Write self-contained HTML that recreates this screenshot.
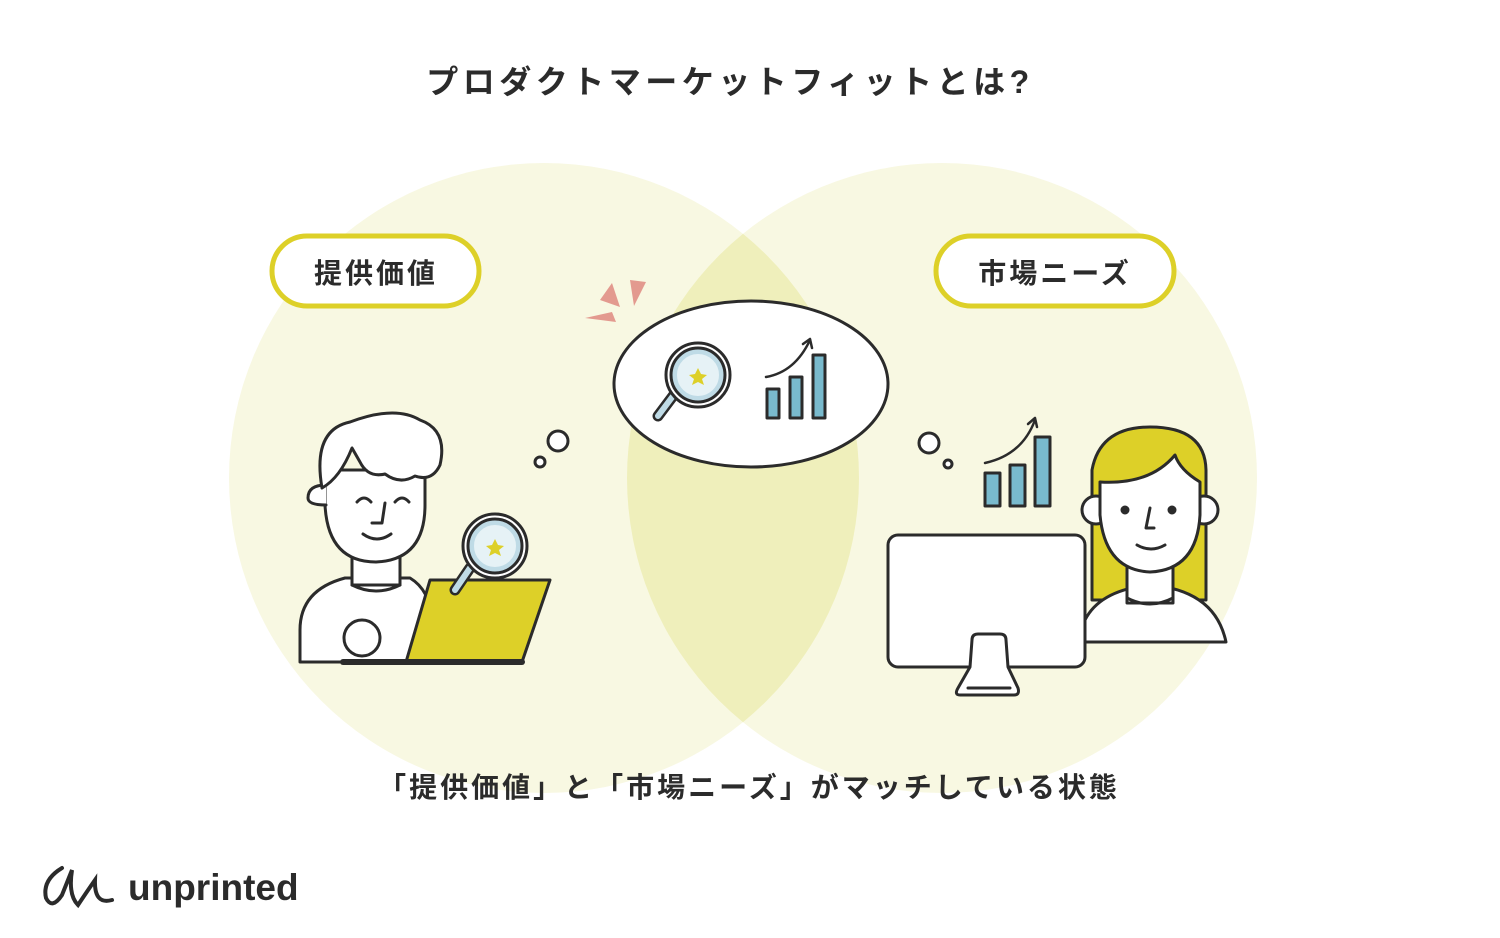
<!DOCTYPE html>
<html><head><meta charset="utf-8"><style>
body{margin:0;width:1500px;height:938px;background:#fff;overflow:hidden}
svg{display:block}
text{font-family:"Liberation Sans","Noto Sans CJK JP",sans-serif;font-weight:bold;fill:#2b2b2b}
</style></head><body>
<svg width="1500" height="938" viewBox="0 0 1500 938">
<defs><clipPath id="cl"><circle cx="544" cy="478" r="315"/></clipPath></defs>
<circle cx="544" cy="478" r="315" fill="#f8f8e2"/>
<circle cx="942" cy="478" r="315" fill="#f8f8e2"/>
<circle cx="942" cy="478" r="315" fill="#efefbb" clip-path="url(#cl)"/>
<text x="730" y="93" font-size="32" text-anchor="middle" letter-spacing="4.5">プロダクトマーケットフィットとは?</text>
<rect x="272" y="236" width="207" height="70" rx="35" fill="#fff" stroke="#ddd028" stroke-width="5"/>
<text x="376" y="283" font-size="28" text-anchor="middle" letter-spacing="3">提供価値</text>
<rect x="936" y="236" width="238" height="70" rx="35" fill="#fff" stroke="#ddd028" stroke-width="5"/>
<text x="1055" y="283" font-size="28" text-anchor="middle" letter-spacing="3">市場ニーズ</text>
<text x="749" y="797" font-size="28" text-anchor="middle" letter-spacing="3">「提供価値」と「市場ニーズ」がマッチしている状態</text>
<g stroke="#2b2b2b" stroke-width="3" fill="none" stroke-linecap="round" stroke-linejoin="round">
<ellipse cx="751" cy="384" rx="137" ry="83" fill="#fff"/>
<line x1="676" y1="392" x2="658" y2="416" stroke-width="11"/>
<line x1="676" y1="392" x2="658" y2="416" stroke="#bfdbe6" stroke-width="6"/>
<circle cx="698" cy="375" r="32" fill="#fff"/>
<circle cx="698" cy="375" r="24" fill="#e6f2f6" stroke="#bfdbe6" stroke-width="6"/>
<circle cx="698" cy="375" r="27"/>
<rect x="767" y="389" width="12" height="29" fill="#79bacd"/>
<rect x="790" y="377" width="12" height="41" fill="#79bacd"/>
<rect x="813" y="355" width="12" height="63" fill="#79bacd"/>
<path d="M766 377 Q795 372 810 340" stroke-width="2.5"/><path d="M803 344 L810 339 L812 348" stroke-width="2.5"/>
<circle cx="558" cy="441" r="10" fill="#fff"/><circle cx="540" cy="462" r="5" fill="#fff"/>
<path d="M300 662 L300 630 Q300 590 345 578 L410 578 Q430 590 432 620 L420 662 Z" fill="#fff"/>
<rect x="352" y="540" width="48" height="45" fill="#fff"/>
<path d="M352 585 Q376 597 400 585"/>
<circle cx="362" cy="638" r="18" fill="#fff"/>
<path d="M325 470 L325 505 Q328 562 376 562 Q425 560 425 505 L425 470 Z" fill="#fff"/>
<path d="M326 505 Q308 505 308 498 Q308 485 326 485" fill="#fff"/>
<path d="M322 488 Q312 430 350 422 Q395 405 420 420 Q448 430 440 465 Q432 482 415 476 Q400 485 385 474 Q368 478 360 462 L352 448 Q340 478 322 488" fill="#fff"/>
<path d="M357 502 q7 -8 14 0 M395 502 q7 -8 14 0 M385 503 l-3 20 l-10 0 M363 534 q14 10 28 0"/>
<path d="M406 662 L430 580 L550 580 L522 662 Z" fill="#ddd028"/>
<path d="M343 662 L522 662" stroke-width="6"/>
<line x1="470" y1="568" x2="455" y2="590" stroke-width="11"/><line x1="470" y1="568" x2="455" y2="590" stroke="#bfdbe6" stroke-width="6"/>
<circle cx="495" cy="546" r="32" fill="#fff"/><circle cx="495" cy="546" r="24" fill="#e6f2f6" stroke="#bfdbe6" stroke-width="6"/><circle cx="495" cy="546" r="27"/>
<circle cx="929" cy="443" r="10" fill="#fff"/><circle cx="948" cy="464" r="4" fill="#fff"/>
<rect x="985" y="473" width="15" height="33" fill="#79bacd"/>
<rect x="1010" y="465" width="15" height="41" fill="#79bacd"/>
<rect x="1035" y="437" width="15" height="69" fill="#79bacd"/>
<path d="M985 463 Q1022 455 1035 420" stroke-width="2.5"/><path d="M1028 424 L1035 418 L1037 427" stroke-width="2.5"/>
<path d="M1092 600 L1092 470 Q1100 427 1150 427 Q1205 427 1206 470 L1206 600 Z" fill="#ddd028"/>
<path d="M1085 642 L1085 620 Q1100 590 1150 585 Q1215 590 1226 642 Z" fill="#fff"/>
<rect x="1127" y="565" width="46" height="38" fill="#fff"/>
<path d="M1127 598 Q1150 610 1173 598"/>
<circle cx="1096" cy="510" r="14" fill="#fff"/><circle cx="1204" cy="510" r="14" fill="#fff"/>
<path d="M1100 482 L1100 515 Q1105 570 1150 572 Q1197 570 1200 515 L1200 482 Q1180 470 1175 455 Q1150 485 1100 482 Z" fill="#fff"/>
<circle cx="1125" cy="510" r="3" fill="#2b2b2b"/><circle cx="1172" cy="510" r="3" fill="#2b2b2b"/>
<path d="M1150 508 l-4 20 l8 0 M1137 545 q14 8 28 0"/>
<rect x="888" y="535" width="197" height="132" rx="10" fill="#fff"/>
<path d="M970 667 L972 640 Q972 634 978 634 L1000 634 Q1006 634 1006 640 L1008 667 L1018 688 Q1020 695 1014 695 L960 695 Q954 695 958 688 Z" fill="#fff"/>
<line x1="968" y1="688" x2="1010" y2="688"/>
</g>
<g fill="#ddd028"><polygon points="698,368 701,374 707,375 702,379 704,385 698,382 692,385 694,379 689,375 695,374"/>
<polygon points="495,539 498,545 504,546 499,550 501,556 495,553 489,556 491,550 486,546 492,545"/></g>
<g fill="#e39a8f"><polygon points="585,318 612,312 616,322"/><polygon points="600,300 612,283 620,307"/><polygon points="630,280 646,282 634,306"/></g>
<path d="M62 868 Q42 880 46 898 Q52 910 62 895 L72 870 Q68 895 78 905 Q88 890 95 880 Q94 905 112 900" stroke="#2b2b2b" stroke-width="4" fill="none" stroke-linecap="round"/>
<text x="128" y="900" font-size="37" style="font-weight:600" fill="#2b2b2b">unprinted</text>
</svg>
</body></html>
